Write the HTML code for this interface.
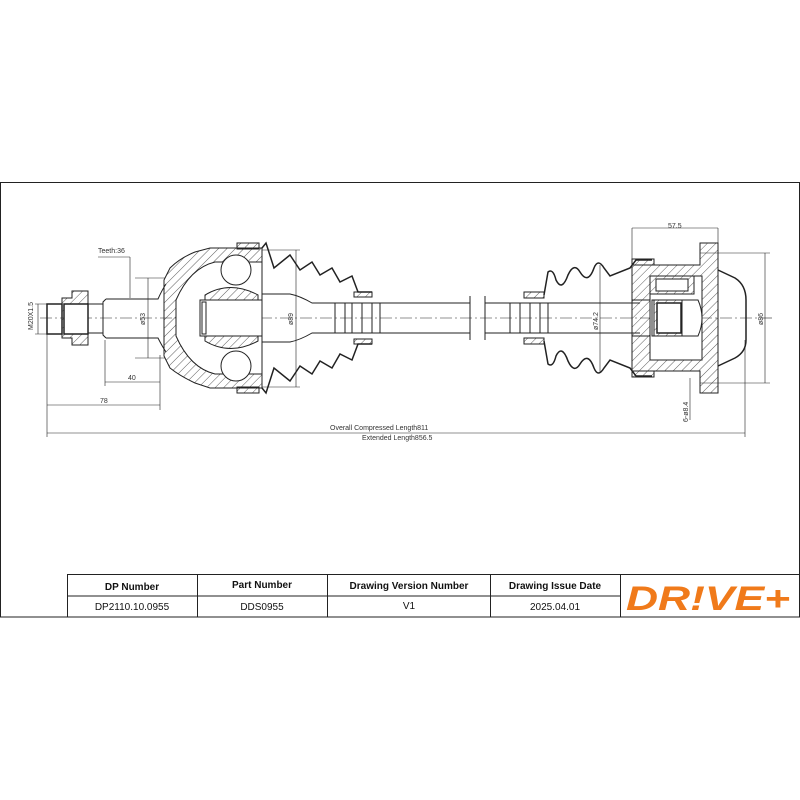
<!DOCTYPE html>
<html><head><style>
body{margin:0;background:#fff;width:800px;height:800px;overflow:hidden;font-family:"Liberation Sans",sans-serif}
</style></head><body>
<svg width="800" height="800" xmlns="http://www.w3.org/2000/svg" style="position:absolute;left:0;top:0">
<defs>
<pattern id="h" width="6" height="6" patternUnits="userSpaceOnUse" patternTransform="rotate(45)">
<line x1="0" y1="0" x2="0" y2="6" stroke="#333" stroke-width="0.8"/>
</pattern>
</defs>
<g fill="none" stroke="#222" stroke-width="1">
<rect x="0.5" y="182.5" width="799" height="434.5"/>
<line x1="40" y1="318" x2="775" y2="318" stroke-dasharray="12,3,2,3" stroke-width="0.6"/>
<rect x="47" y="304" width="15" height="30" stroke-width="1.5"/>
<path d="M62 298 H72 V291 H88 V345 H72 V338 H62 Z" fill="url(#h)"/>
<rect x="64" y="304" width="24" height="30" fill="#fff" stroke-width="1.5"/>
<path d="M88 304 H103 M88 333 H103"/>
<path d="M106 299 H158 Q162 290 166 284 M106 338 H158 Q162 346 166 352 M106 299 L103 302 V335 L106 338"/>
<path d="M164 280 L170 268 Q180 258 195 252 L210 248 H262 V388 H210 L195 383 Q180 376 170 368 L164 356 Z" fill="url(#h)"/>
<path d="M176 300 Q190 268 215 262 H262 V374 H215 Q190 368 176 336 Z" fill="#fff"/>
<circle cx="236" cy="270" r="15" fill="#fff"/>
<circle cx="236" cy="366" r="15" fill="#fff"/>
<path d="M205 295 Q230 280 258 295 V341 Q230 356 205 341 Z" fill="url(#h)"/>
<rect x="200" y="300" width="62" height="36" fill="#fff"/>
<rect x="202" y="302" width="4" height="32"/>
<path d="M262 294 H290 Q300 296 312 303 H470 M262 342 H290 Q300 340 312 333 H470"/>
<path d="M335 303 V333 M345 303 V333 M352 303 V333 M362 303 V333 M372 303 V333 M380 303 V333"/>
<path d="M262 248 L266 243 L274 268 L290 255 L300 270 L312 262 L320 275 L332 268 L340 282 L352 276 L358 292 H372" stroke-width="1.5"/>
<path d="M262 388 L266 393 L274 368 L290 381 L300 366 L312 374 L320 361 L332 368 L340 354 L352 360 L358 344 H372" stroke-width="1.5"/>
<rect x="237" y="243" width="22" height="6" fill="url(#h)"/>
<rect x="237" y="387" width="22" height="6" fill="url(#h)"/>
<rect x="354" y="292" width="18" height="5" fill="url(#h)"/>
<rect x="354" y="339" width="18" height="5" fill="url(#h)"/>
<path d="M470 296 V340 M485 296 V340"/>
<path d="M485 303 H640 M485 333 H640"/>
<path d="M510 303 V333 M520 303 V333 M530 303 V333 M540 303 V333 M548 303 V333"/>
<rect x="524" y="292" width="20" height="6" fill="url(#h)"/>
<rect x="524" y="338" width="20" height="6" fill="url(#h)"/>
<path d="M544 295 L548 272 Q553 268 556 280 Q562 292 568 275 Q574 262 580 272 Q588 285 594 268 Q598 258 604 268 L610 276 L630 268 L636 260 H652" stroke-width="1.5"/>
<path d="M544 341 L548 364 Q553 368 556 356 Q562 344 568 361 Q574 374 580 364 Q588 351 594 368 Q598 378 604 368 L610 360 L630 368 L636 376 H652" stroke-width="1.5"/>
<rect x="632" y="259" width="22" height="6" fill="url(#h)"/>
<rect x="632" y="371" width="22" height="6" fill="url(#h)"/>
<path d="M632 265 H700 V243 H718 V393 H700 V371 H632 Z" fill="url(#h)"/>
<rect x="650" y="276" width="52" height="84" fill="#fff"/>
<path d="M650 276 V300 H632 M650 360 V336 H632"/>
<rect x="650" y="276" width="44" height="18" fill="url(#h)"/>
<rect x="656" y="279" width="32" height="12" fill="#fff"/>
<path d="M652 300 H698 Q706 318 698 336 H652 Z" fill="#fff"/>
<rect x="654" y="300" width="28" height="36" fill="url(#h)"/>
<rect x="657" y="303" width="24" height="30" fill="#fff" stroke-width="1.5"/>
<path d="M718 270 L735 278 Q746 285 746 300 V340 Q746 352 735 358 L718 366" stroke-width="1.5"/>
<g stroke-width="0.6">
<path d="M35 304 H47 M35 334 H47 M38 304 V334"/>
<path d="M47 334 V437 M160 355 V410 M105 340 V386 M745 340 V437"/>
<path d="M47 405 H160 M105 382 H160 M47 433 H745"/>
<path d="M130 298 V262 M98 257 H130 M130 257 V298"/>
<path d="M135 278 H165 M135 358 H165 M148 278 V358"/>
<path d="M262 250 H300 M262 387 H300 M296 250 V387"/>
<path d="M600 265 V373 M632 228 H718 M632 228 V262 M718 228 V243"/>
<path d="M700 253 H770 M700 383 H770 M765 253 V383"/>
<path d="M690 378 V420"/>
</g>
</g>
<g font-size="7" fill="#333" font-family="Liberation Sans,sans-serif">
<text x="98" y="253">Teeth:36</text>
<text x="128" y="380">40</text>
<text x="100" y="403">78</text>
<text x="330" y="430">Overall  Compressed  Length811</text>
<text x="362" y="440">Extended  Length856.5</text>
<text x="668" y="228">57.5</text>
<text transform="translate(33,330) rotate(-90)">M20X1.5</text>
<text transform="translate(145,325) rotate(-90)">ø53</text>
<text transform="translate(293,325) rotate(-90)">ø89</text>
<text transform="translate(598,330) rotate(-90)">ø74.2</text>
<text transform="translate(763,325) rotate(-90)">ø86</text>
<text transform="translate(688,422) rotate(-90)">6-ø8.4</text>
</g>
<g stroke="#222" stroke-width="1" fill="none">
<rect x="67.5" y="574.5" width="732" height="42.5"/>
<path d="M67 596 H620 M197.5 574 V617 M327.5 574 V617 M490.5 574 V617 M620.5 574 V617"/>
</g>
<g font-size="10" text-anchor="middle" fill="#111" font-family="Liberation Sans,sans-serif">
<text x="132" y="590" font-weight="bold">DP Number</text>
<text x="262" y="588" font-weight="bold">Part Number</text>
<text x="409" y="589" font-weight="bold">Drawing Version Number</text>
<text x="555" y="589" font-weight="bold">Drawing Issue Date</text>
<text x="132" y="610">DP2110.10.0955</text>
<text x="262" y="610">DDS0955</text>
<text x="409" y="609">V1</text>
<text x="555" y="610">2025.04.01</text>
</g>
<text x="626" y="610" font-size="34" font-weight="bold" font-style="italic" fill="#f07a1a" font-family="Liberation Sans,sans-serif" textLength="164" lengthAdjust="spacingAndGlyphs">DR!VE+</text>
</svg>
</body></html>
